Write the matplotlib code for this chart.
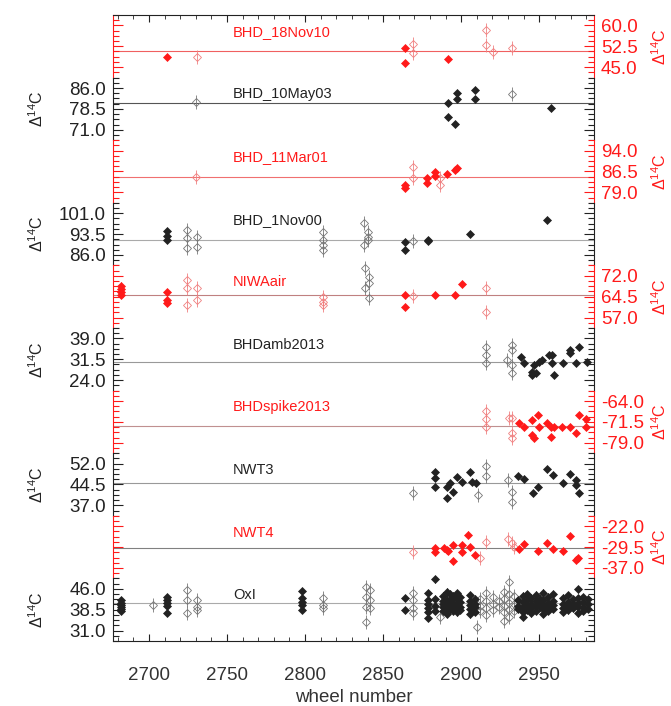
import matplotlib
matplotlib.use("Agg")
import matplotlib.pyplot as plt
from matplotlib.ticker import MultipleLocator, FixedLocator
import numpy as np

plt.rcParams['font.family'] = ['Liberation Sans', 'DejaVu Sans']

RED = "#ff1a1a"
DARK = "#222222"

# panel names, top to bottom
names = ["BHD_18Nov10", "BHD_10May03", "BHD_11Mar01", "BHD_1Nov00", "NIWAair",
         "BHDamb2013", "BHDspike2013", "NWT3", "NWT4", "OxI"]
centers = [52.5, 78.5, 86.5, 93.5, 64.5, 31.5, -71.5, 44.5, -29.5, 38.5]
ref_lines = [50.8, 80.6, 84.5, 91.4, 65.1, 30.5, -73.0, 45.0, -29.8, 40.9]
is_red = [True, False, True, False, True, False, True, False, True, False]
line_cols = ["#f06060", "#555555", "#f07070", "#aaaaaa", "#c08080",
             "#999999", "#c09090", "#999999", "#808080", "#aaaaaa"]

# each series: (wheel number, [delta14C values at that wheel])
bhd18_filled = [(2711.5, [48.7]), (2864.3, [51.9, 46.5]), (2891.8, [47.9])]
bhd18_open = [(2730.7, [48.7]), (2868.8, [53.3, 50.1]), (2916.1, [58.4, 53.0]),
              (2920.6, [50.4]), (2932.7, [51.9])]

bhd10_filled = [(2891.8, [80.6, 75.6]), (2895.7, [73.1]), (2897.6, [84.2, 82.1]),
                (2908.5, [85.3, 82.1]), (2957.7, [78.8])]
bhd10_open = [(2730.0, [81.0]), (2932.7, [83.9])]

bhd11_filled = [(2864.3, [81.6, 80.6]), (2877.8, [84.2, 82.5]), (2882.9, [86.3, 84.9]),
                (2890.6, [85.6]), (2895.7, [87.0]), (2897.6, [87.7])]
bhd11_open = [(2730.0, [84.5]), (2868.8, [88.1, 84.2]), (2886.7, [84.2, 81.6])]

bhd1_filled = [(2711.5, [94.6, 92.8, 91.4]), (2864.3, [90.7, 87.8]), (2878.4, [91.0, 91.4]),
               (2905.3, [93.5]), (2955.1, [98.6])]
bhd1_open = [(2724.3, [95.0, 92.1, 88.5]), (2730.7, [92.5, 88.9]),
             (2811.3, [94.3, 91.4, 89.6, 87.8]), (2838.0, [97.5, 89.6]),
             (2840.5, [94.3, 92.5, 91.4]), (2868.8, [91.0])]

niwa_filled = [(2682.1, [68.5, 67.3, 66.2, 65.2]), (2711.5, [66.2, 63.3, 62.2]),
               (2864.3, [65.1, 60.8]), (2883.5, [65.1]), (2895.7, [65.1]), (2900.2, [69.1])]
niwa_open = [(2724.3, [70.5, 67.6, 61.5]), (2730.7, [67.6, 63.3]),
             (2811.3, [64.4, 62.6, 61.5]), (2868.8, [64.8]), (2916.1, [67.6, 59.0])]
niwa_open_gray = [(2838.5, [74.8, 67.6]), (2841.0, [71.6, 69.4, 64.0])]

amb_filled = [(2938.5, [32.3]), (2940.4, [30.2]), (2945.0, [27.0, 25.9]), (2946.8, [29.5]),
              (2948.0, [26.6]), (2950.0, [30.5]), (2952.0, [31.2]), (2956.4, [33.0]),
              (2958.0, [33.0, 30.2]), (2959.6, [25.9]), (2965.4, [30.2]),
              (2969.8, [33.8, 34.8]), (2973.7, [30.2]), (2975.6, [35.9]), (2980.7, [30.5])]
amb_open = [(2916.1, [35.9, 33.1, 30.2]), (2929.6, [31.2]), (2932.7, [36.6, 34.8, 29.5, 26.6])]

spike_filled = [(2937.2, [-71.9]), (2940.4, [-73.3]), (2945.3, [-70.8, -76.2]),
                (2946.8, [-77.3]), (2949.4, [-69.0]), (2950.0, [-73.3]), (2955.1, [-71.9]),
                (2957.7, [-73.3, -76.9]), (2959.6, [-73.3]), (2964.7, [-73.3]),
                (2969.8, [-73.3]), (2973.7, [-75.5]), (2975.6, [-69.0]), (2980.0, [-70.5, -73.3])]
spike_open = [(2916.1, [-67.6, -70.5, -73.3]), (2930.8, [-70.1]), (2932.7, [-70.1, -75.5, -77.3])]

nwt3_filled = [(2883.5, [49.0, 46.8, 43.6]), (2890.6, [39.6]), (2891.2, [43.6]), (2893.1, [45.0]),
               (2895.0, [41.8]), (2897.6, [47.2]), (2900.2, [45.4]), (2905.3, [49.0]),
               (2907.2, [45.4]), (2909.7, [45.0]), (2936.6, [47.5]), (2940.4, [46.5]),
               (2946.2, [41.4]), (2949.4, [43.6]), (2955.1, [50.1]), (2959.0, [47.9]),
               (2965.4, [45.0]), (2969.8, [48.3]), (2973.7, [46.1, 44.3]), (2975.6, [41.4])]
nwt3_open = [(2868.8, [41.4]), (2911.0, [40.7]), (2916.1, [51.2, 47.5]), (2930.2, [46.1]),
             (2932.7, [41.8, 38.2])]

nwt4_filled = [(2883.5, [-29.8, -31.3]), (2889.0, [-29.8]), (2890.6, [-30.5]), (2891.8, [-30.9]),
               (2895.0, [-28.7, -34.5]), (2900.2, [-28.7, -31.3]), (2904.6, [-25.1]),
               (2905.3, [-29.5]), (2908.5, [-32.3]), (2937.2, [-30.2]), (2940.4, [-28.4]),
               (2949.4, [-30.9]), (2955.1, [-28.0]), (2959.0, [-30.2]), (2965.4, [-30.9]),
               (2969.8, [-25.5]), (2973.7, [-34.1]), (2975.0, [-33.4])]
nwt4_open = [(2868.8, [-31.3]), (2911.7, [-33.4]), (2916.1, [-27.7]), (2930.2, [-26.6]),
             (2932.7, [-28.0]), (2934.0, [-29.5])]

oxi_filled = [(2682.1, [42.0, 41.0, 40.3, 39.6, 38.8, 38.0]),
              (2711.5, [43.0, 41.8, 40.8, 40.0, 37.3]),
              (2797.8, [45.2, 42.7, 41.2, 40.2, 38.4]),
              (2864.3, [42.7, 38.4]),
              (2878.4, [44.4, 42.0, 40.6, 39.0, 37.5, 35.6]),
              (2883.5, [49.4, 42.5, 40.0, 38.2]),
              (2888.5, [43.5, 41.5, 40.5, 39.5, 38.0]),
              (2890.6, [45.0, 42.0, 40.8, 39.2, 37.0]),
              (2892.5, [44.2, 41.8, 40.0, 38.6]),
              (2894.8, [43.5, 41.0, 39.8, 38.0]),
              (2897.0, [44.5, 42.5, 40.5, 39.0, 37.5]),
              (2899.5, [43.0, 41.2, 39.6, 38.5]),
              (2905.3, [43.8, 41.5, 40.2, 38.8, 36.8]),
              (2908.5, [42.5, 40.5, 39.3, 37.8]),
              (2936.6, [42.0, 40.0, 38.8]),
              (2939.5, [43.5, 41.2, 39.5, 37.8, 36.0]),
              (2942.0, [44.0, 41.8, 40.2, 38.5]),
              (2944.7, [42.8, 40.6, 39.0, 37.2]),
              (2947.9, [43.9, 41.5, 40.0, 38.2]),
              (2950.5, [42.5, 40.8, 39.3]),
              (2952.6, [44.6, 41.9, 40.3, 38.6, 37.0]),
              (2955.3, [43.2, 41.0, 39.5, 38.0]),
              (2958.5, [44.0, 41.6, 40.1, 38.8]),
              (2964.9, [42.8, 40.7, 39.2, 37.8]),
              (2968.1, [43.6, 41.3, 39.8, 38.3]),
              (2971.3, [42.2, 40.5, 39.0]),
              (2974.5, [45.8, 42.6, 40.8, 39.4, 37.2]),
              (2977.7, [43.0, 41.1, 39.6, 38.1]),
              (2980.9, [42.4, 40.4, 38.9])]
oxi_open = [(2702.6, [40.2]), (2724.3, [45.5, 42.0, 37.3]), (2730.7, [42.0, 39.5, 38.4]),
            (2811.3, [42.7, 40.2, 39.1]), (2838.8, [46.6, 43.0, 39.5, 34.1]),
            (2841.3, [45.5, 42.0, 39.1]), (2868.8, [44.4, 42.0, 39.1, 37.3]),
            (2886.5, [35.8]), (2910.4, [32.2]), (2912.0, [42.5, 40.0, 38.0]),
            (2915.9, [44.5, 41.5, 39.0, 36.5]), (2920.2, [43.0, 40.5, 38.5]),
            (2924.0, [41.5, 39.5]), (2927.6, [45.0, 42.5, 40.0, 37.5, 34.5]),
            (2930.8, [48.6, 44.0, 41.0, 38.5, 36.0]), (2934.0, [43.5, 40.5, 38.0])]

filled_series = [bhd18_filled, bhd10_filled, bhd11_filled, bhd1_filled, niwa_filled,
                 amb_filled, spike_filled, nwt3_filled, nwt4_filled, oxi_filled]
open_series = [bhd18_open, bhd10_open, bhd11_open, bhd1_open, niwa_open,
               amb_open, spike_open, nwt3_open, nwt4_open, oxi_open]
filled_err = 1.2
open_err = 2.5


def expand(series):
    w = []
    v = []
    for wheel, vals in series:
        for val in vals:
            w.append(wheel)
            v.append(val)
    return w, v


def draw_open(ax, series, col):
    w, v = expand(series)
    ax.errorbar(w, v, yerr=open_err, fmt='D', ms=4.2, mfc='none', mec=col, mew=0.6,
                ecolor=col, elinewidth=0.6, capsize=0, zorder=2, clip_on=False)


fig, axes = plt.subplots(10, 1, sharex=True, figsize=(6.71, 7.06), dpi=100)
fig.subplots_adjust(left=0.1684, right=0.8852, top=0.9788, bottom=0.0921, hspace=0)

for i, ax in enumerate(axes):
    red = is_red[i]
    col = RED if red else DARK
    ocol = "#f08080" if red else "#777777"
    c = centers[i]
    ax.set_xlim(2677, 2985)
    ax.set_ylim(c - 11.25, c + 11.25)
    ax.axhline(ref_lines[i], color=line_cols[i], lw=0.8, zorder=1)

    draw_open(ax, open_series[i], ocol)
    if names[i] == "NIWAair":
        draw_open(ax, niwa_open_gray, "#777777")
    fw, fv = expand(filled_series[i])
    ax.errorbar(fw, fv, yerr=filled_err, fmt='D', ms=4.0, mfc=col, mec=col, mew=0.5,
                ecolor=col, elinewidth=0.6, capsize=0, zorder=3, clip_on=False)

    ax.text(0.25, 0.73, names[i], transform=ax.transAxes, color=col,
            fontsize=10.5, ha='left', va='center')

    ax.set_yticks([c + 7.5, c, c - 7.5])
    ax.set_yticklabels(["%.1f" % (c + 7.5), "%.1f" % c, "%.1f" % (c - 7.5)])
    ax.yaxis.set_minor_locator(FixedLocator(c + np.arange(-6, 7) * 1.875))

    ax.spines['top'].set_visible(False)
    ax.spines['bottom'].set_visible(False)
    ax.spines['left'].set_color(col)
    ax.spines['right'].set_color(col)
    ax.tick_params(axis='y', which='both', direction='in', left=True, right=True,
                   color=col, labelcolor=col, labelleft=not red, labelright=red,
                   labelsize=13.5, pad=5, width=0.8)
    ax.tick_params(axis='y', which='major', length=7)
    ax.tick_params(axis='y', which='minor', length=4)
    ax.tick_params(axis='x', which='both', bottom=False, top=False, labelbottom=False)

    ax.set_ylabel('Δ$^{\\mathregular{14}}$C', fontsize=11.5, color=col)
    if red:
        ax.yaxis.set_label_position('right')
        ax.yaxis.set_label_coords(1.137, 0.5)
    else:
        ax.yaxis.set_label_coords(-0.158, 0.5)
    ax.yaxis.label.set_verticalalignment('center')

top = axes[0]
top.spines['top'].set_visible(True)
top.spines['top'].set_color(DARK)
top.tick_params(axis='x', which='both', top=True, direction='in', color=DARK)
top.tick_params(axis='x', which='major', length=5)
top.tick_params(axis='x', which='minor', length=3)

bot = axes[-1]
bot.spines['bottom'].set_visible(True)
bot.spines['bottom'].set_color(DARK)
bot.xaxis.set_major_locator(MultipleLocator(50))
bot.xaxis.set_minor_locator(MultipleLocator(10))
bot.tick_params(axis='x', which='both', bottom=True, direction='in', labelbottom=True,
                color=DARK, labelcolor="#333333", labelsize=13.5, pad=19)
bot.tick_params(axis='x', which='major', length=5)
bot.tick_params(axis='x', which='minor', length=3)
bot.set_xlabel('wheel number', fontsize=13.5, color="#333333", labelpad=3)

fig.savefig("out.png", dpi=100)
